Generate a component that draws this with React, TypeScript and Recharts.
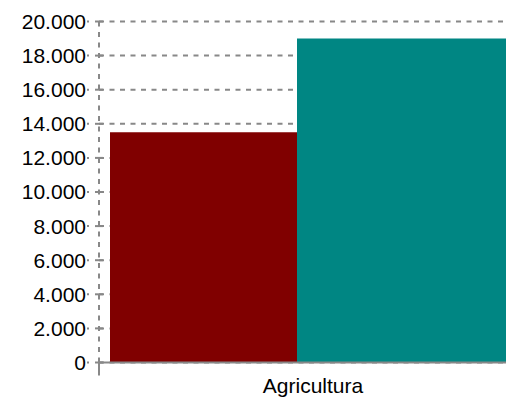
// Bar chart: Agricultura, two series, clipped on the right like the reference

import { BarChart, Bar, XAxis, YAxis, CartesianGrid } from "recharts";

const categories = ["Agricultura"];
const serieA = [13500];
const serieB = [19000];
const yTicks = [0, 2000, 4000, 6000, 8000, 10000, 12000, 14000, 16000, 18000, 20000];

const data = categories.map((name, i) => ({ name, a: serieA[i], b: serieB[i] }));

const GRID = "#888888";
const FONT = "'Liberation Sans', Arial, sans-serif";
const FS = 21;

function fmt(v: number) {
  return String(v).replace(/\B(?=(\d{3})+(?!\d))/g, ".");
}

function YTick(props: any) {
  const { x, y, payload } = props;
  return (
    <g>
      <text x={x} y={y} dy="0.355em" textAnchor="end" fontSize={FS} fontFamily={FONT} fill="#000">
        {fmt(payload.value)}
      </text>
      <line x1={x + 1} x2={x + 3} y1={y} y2={y} stroke={GRID} strokeWidth={2} />
      <line x1={x + 9} x2={x + 17} y1={y} y2={y} stroke={GRID} strokeWidth={2} />
      {payload.value === 0 && (
        <line x1={x + 13} x2={x + 13} y1={y} y2={y + 13} stroke={GRID} strokeWidth={2} />
      )}
    </g>
  );
}

function XTick(props: any) {
  const { x, y, payload } = props;
  return (
    <text x={x} y={y} dy="0.71em" textAnchor="middle" fontSize={FS} fontFamily={FONT} fill="#000">
      {payload.value}
    </text>
  );
}

export default function App() {
  return (
    <div style={{ width: 498, height: 390, padding: "8px 0 0 8px", overflow: "hidden" }}>
      <style>{"html{overflow:hidden}body{margin:0}"}</style>
      <BarChart
        width={498}
        height={390}
        data={data}
        margin={{ top: 13.5, right: -21, bottom: 5.5, left: 0 }}
        barSize={219}
        barGap={-32}
      >
        <CartesianGrid
          vertical={false}
          stroke={GRID}
          strokeWidth={2}
          strokeDasharray="5 5.5"
        />
        <XAxis
          dataKey="name"
          height={30}
          tickLine={false}
          tickSize={0}
          tickMargin={16}
          axisLine={{ stroke: GRID, strokeWidth: 2 }}
          tick={<XTick />}
        />
        <YAxis
          width={91}
          domain={[0, 20000]}
          ticks={yTicks}
          interval={0}
          tickLine={false}
          tickSize={0}
          tickMargin={13}
          axisLine={{ stroke: GRID, strokeWidth: 2, strokeDasharray: "5 5.5" }}
          tick={<YTick />}
        />
        <Bar dataKey="a" fill="#800000" isAnimationActive={false} />
        <Bar dataKey="b" fill="#008683" isAnimationActive={false} />
      </BarChart>
    </div>
  );
}
